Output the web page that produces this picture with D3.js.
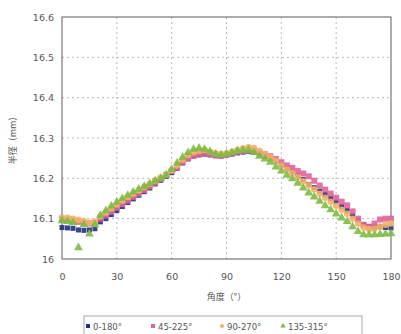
<!DOCTYPE html>
<html>
<head>
<meta charset="utf-8">
<script src="https://cdn.jsdelivr.net/npm/d3@7"></script>
<style>
  body { margin: 0; background: #fff; }
  svg { display: block; font-family: "Noto Sans CJK JP", "DejaVu Sans", sans-serif; }
</style>
</head>
<body>
<svg width="401" height="334"></svg>
<script>
// angles, every 3 degrees from 0 to 180
const angles = d3.range(0, 181, 3);

const s0_180 = [16.078, 16.077, 16.076, 16.072, 16.071, 16.072, 16.075, 16.092, 16.100, 16.110,
  16.120, 16.130, 16.140, 16.149, 16.158, 16.167, 16.176, 16.186, 16.195, 16.205,
  16.214, 16.225, 16.238, 16.248, 16.255, 16.258, 16.260, 16.258, 16.256, 16.255,
  16.257, 16.260, 16.263, 16.265, 16.267, 16.264, 16.260, 16.255, 16.250, 16.243,
  16.234, 16.225, 16.217, 16.207, 16.197, 16.185, 16.177, 16.168, 16.160, 16.150,
  16.141, 16.130, 16.120, 16.108, 16.096, 16.085, 16.080, 16.079, 16.080, 16.078, 16.077];

const s45_225 = [16.098, 16.097, 16.095, 16.092, 16.090, 16.088, 16.090, 16.100, 16.108, 16.117,
  16.127, 16.136, 16.145, 16.154, 16.162, 16.171, 16.180, 16.189, 16.198, 16.208,
  16.218, 16.228, 16.240, 16.250, 16.256, 16.260, 16.262, 16.260, 16.257, 16.256,
  16.258, 16.262, 16.266, 16.268, 16.270, 16.268, 16.264, 16.260, 16.255, 16.248,
  16.240, 16.232, 16.226, 16.218, 16.212, 16.205, 16.194, 16.182, 16.172, 16.162,
  16.152, 16.142, 16.133, 16.118, 16.100, 16.085, 16.080, 16.088, 16.098, 16.100, 16.100];

const s90_270 = [16.103, 16.102, 16.100, 16.097, 16.094, 16.090, 16.092, 16.106, 16.116, 16.126,
  16.136, 16.145, 16.154, 16.162, 16.170, 16.178, 16.186, 16.194, 16.202, 16.210,
  16.220, 16.232, 16.246, 16.257, 16.264, 16.268, 16.270, 16.266, 16.262, 16.260,
  16.262, 16.266, 16.270, 16.274, 16.277, 16.275, 16.268, 16.260, 16.252, 16.243,
  16.232, 16.222, 16.213, 16.203, 16.193, 16.183, 16.173, 16.162, 16.152, 16.142,
  16.132, 16.122, 16.112, 16.100, 16.088, 16.078, 16.074, 16.075, 16.080, 16.085, 16.088];

const s135_315 = [16.095, 16.093, 16.090, 16.028, 16.085, 16.062, 16.085, 16.108, 16.120, 16.131,
  16.141, 16.150, 16.158, 16.166, 16.173, 16.180, 16.187, 16.194, 16.200, 16.208,
  16.222, 16.238, 16.252, 16.264, 16.272, 16.275, 16.272, 16.266, 16.260, 16.258,
  16.260, 16.264, 16.268, 16.270, 16.270, 16.264, 16.255, 16.248, 16.240, 16.228,
  16.218, 16.208, 16.199, 16.188, 16.176, 16.164, 16.154, 16.143, 16.132, 16.122,
  16.112, 16.102, 16.093, 16.080, 16.068, 16.060, 16.060, 16.060, 16.061, 16.062, 16.063];

const xTicks = [0, 30, 60, 90, 120, 150, 180];
const yTicks = [16, 16.1, 16.2, 16.3, 16.4, 16.5, 16.6];
const seriesNames = ["0-180°", "45-225°", "90-270°", "135-315°"];

const series = [
  { name: seriesNames[0], values: s0_180, color: "#22307e", shape: "square", size: 5 },
  { name: seriesNames[1], values: s45_225, color: "#e0649a", shape: "square", size: 6 },
  { name: seriesNames[2], values: s90_270, color: "#f2b266", shape: "circle", size: 6.5 },
  { name: seriesNames[3], values: s135_315, color: "#7dbb45", shape: "triangle", size: 6.5 }
];

const svg = d3.select("svg");
const plotLeft = 62, plotRight = 391, plotTop = 17, plotBottom = 259;

const x = d3.scaleLinear().domain([0, 180]).range([plotLeft, plotRight]);
const y = d3.scaleLinear().domain([16, 16.6]).range([plotBottom, plotTop]);

// grid
const grid = svg.append("g");
grid.selectAll("line.gy")
  .data(yTicks.slice(1, -1))
  .enter().append("line")
  .attr("x1", plotLeft).attr("x2", plotRight)
  .attr("y1", d => y(d)).attr("y2", d => y(d))
  .style("stroke", "#b8b8b8")
  .style("stroke-dasharray", "2,3");
grid.selectAll("line.gx")
  .data(xTicks.slice(1, -1))
  .enter().append("line")
  .attr("y1", plotTop).attr("y2", plotBottom)
  .attr("x1", d => x(d)).attr("x2", d => x(d))
  .style("stroke", "#b8b8b8")
  .style("stroke-dasharray", "2,3");

// frame
svg.append("rect")
  .attr("x", plotLeft).attr("y", plotTop)
  .attr("width", plotRight - plotLeft).attr("height", plotBottom - plotTop)
  .style("fill", "none")
  .style("stroke", "#777")
  .style("stroke-width", 1.2);

// axes
const yAxis = svg.append("g")
  .attr("transform", `translate(${plotLeft},0)`)
  .call(d3.axisLeft(y).tickValues(yTicks).tickSize(0).tickPadding(8)
    .tickFormat(d => String(+d.toFixed(1))));
const xAxis = svg.append("g")
  .attr("transform", `translate(0,${plotBottom})`)
  .call(d3.axisBottom(x).tickValues(xTicks).tickSize(0).tickPadding(14));
[yAxis, xAxis].forEach(a => {
  a.select(".domain").remove();
  a.selectAll("text")
    .style("font-size", "9.5px")
    .style("fill", "#555")
    .style("font-family", "'DejaVu Sans', sans-serif");
});

// axis titles
svg.append("text")
  .attr("x", (plotLeft + plotRight) / 2).attr("y", 300)
  .attr("text-anchor", "middle")
  .style("font-size", "9px").style("fill", "#555")
  .text("角度（°）");
svg.append("text")
  .attr("transform", `translate(16,${(plotTop + plotBottom) / 2}) rotate(-90)`)
  .attr("text-anchor", "middle")
  .style("font-size", "9px").style("fill", "#555")
  .text("半径（mm）");

function shapePath(shape, s) {
  if (shape === "triangle") return d3.symbol(d3.symbolTriangle, s * s * 0.8)();
  if (shape === "circle") return d3.symbol(d3.symbolCircle, s * s * 0.8)();
  return d3.symbol(d3.symbolSquare, s * s)();
}

// points
const marks = svg.append("g");
series.forEach(s => {
  marks.append("g")
    .selectAll("path")
    .data(s.values)
    .enter()
    .append("path")
    .attr("d", shapePath(s.shape, s.size))
    .attr("transform", (d, i) => `translate(${x(angles[i])},${y(d)})`)
    .style("fill", s.color)
    .style("opacity", 0.9);
});

// legend
const legend = svg.append("g");
legend.append("rect")
  .attr("x", 84).attr("y", 316)
  .attr("width", 278).attr("height", 22)
  .style("fill", "#fff")
  .style("stroke", "#aaa");
const legendX = [88, 153, 222, 283];
series.forEach((s, i) => {
  legend.append("path")
    .attr("d", shapePath(s.shape, 4))
    .attr("transform", `translate(${legendX[i]},326)`)
    .style("fill", s.color);
  legend.append("text")
    .attr("x", legendX[i] + 5).attr("y", 329.5)
    .style("font-size", "8.5px").style("fill", "#555")
    .style("font-family", "'DejaVu Sans', sans-serif")
    .text(s.name);
});
</script>
</body>
</html>
